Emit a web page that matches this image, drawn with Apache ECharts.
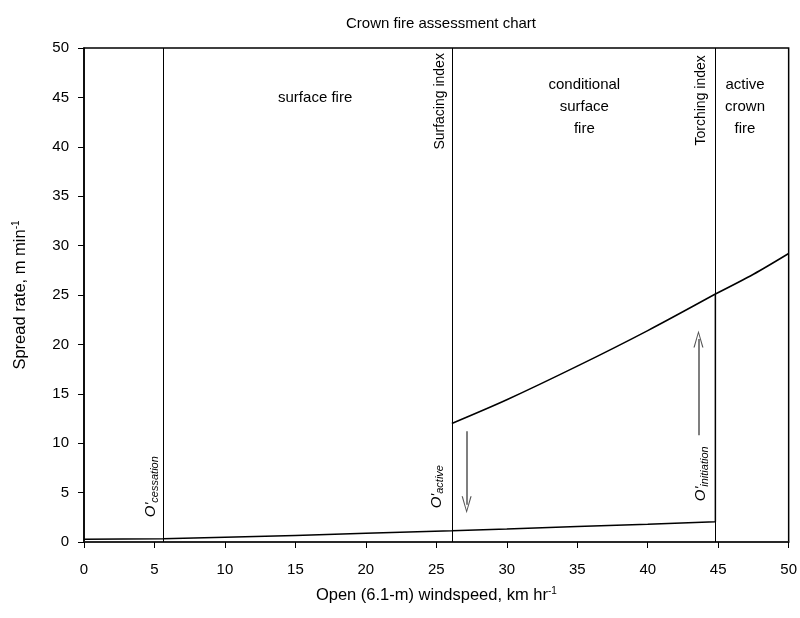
<!DOCTYPE html>
<html>
<head>
<meta charset="utf-8">
<script src="https://cdn.jsdelivr.net/npm/echarts@6/dist/echarts.min.js"></script>
<style>
  html, body { margin: 0; padding: 0; background: #fff; }
  #chart { width: 800px; height: 618px; }
</style>
</head>
<body>
<div id="chart"></div>
<script>
'use strict';

// surface fire spread rate (lower branch), ending with the jump at the torching index
const surfaceX = [0, 5.6, 10, 15, 20, 26.1, 30, 35, 40, 44.8, 44.8];
const surfaceY = [0.27, 0.33, 0.48, 0.67, 0.88, 1.14, 1.32, 1.56, 1.8, 2.05, 25.1];

// active crown fire beyond the torching index
const tailX = [44.8, 47.5, 50];
const tailY = [25.1, 27.1, 29.2];

// active crown fire branch inside the conditional zone
const upperX = [26.1, 30, 35, 40, 44.8];
const upperY = [12.0, 14.4, 17.8, 21.4, 25.1];

// thresholds: O'cessation, surfacing index (O'active), torching index (O'initiation)
const thresholds = [5.6, 26.1, 44.8];

// arrows: [x, yFrom, yTip]
const arrows = [
  [27.15, 11.2, 2.9],
  [43.6, 10.8, 21.4],
];

const xTicks = [0, 50, 5];
const yTicks = [0, 50, 5];

// annotation text
const zoneLabels = [
  { text: 'surface fire', at: [16.4, 45.0] },
  { text: 'conditional\nsurface\nfire', at: [35.5, 44.0] },
  { text: 'active\ncrown\nfire', at: [46.9, 44.0] },
];
const indexLabels = [
  { text: 'Surfacing index', at: [25.25, 44.6] },
  { text: 'Torching index', at: [43.8, 44.7] },
];
const subLabels = [
  { sub: 'cessation', at: [4.75, 5.6] },
  { sub: 'active', at: [25.0, 5.6] },
  { sub: 'initiation', at: [43.8, 6.9] },
];

const FONT = 'Liberation Sans, Arial, sans-serif';
const chevron = 'path://M5,0 L10,18 L8.8,18 L5,3.5 L1.2,18 L0,18 Z';
const HEAD = 17; // arrow head length, px
const Y_PX = 494 / 50; // px per y unit, only used to pull the head back onto the tip

const pairs = (xs, ys) => xs.map((x, i) => [x, ys[i]]);

const labelData = [
  ...zoneLabels.map((d) => ({
    value: d.at,
    label: { formatter: d.text, fontSize: 15, lineHeight: 22 },
  })),
  ...indexLabels.map((d) => ({
    value: d.at,
    label: { formatter: d.text, fontSize: 14, rotate: 90 },
  })),
  ...subLabels.map((d) => ({
    value: d.at,
    label: { formatter: `{o|O'}{s|${d.sub}}`, rotate: 90 },
  })),
];

const arrowData = arrows.map(([x, y0, y1]) => {
  const back = (HEAD / 2 / Y_PX) * Math.sign(y1 - y0);
  return [{ coord: [x, y0] }, { coord: [x, y1 - back] }];
});

const nameRich = {
  a: { fontFamily: FONT, fontSize: 16.5, color: '#000' },
  s: { fontFamily: FONT, fontSize: 10, color: '#000', verticalAlign: 'top', padding: [0, 0, 9, 0] },
};

const chart = echarts.init(document.getElementById('chart'));

chart.setOption({
  animation: false,
  textStyle: { fontFamily: FONT, color: '#000' },
  title: {
    text: 'Crown fire assessment chart',
    left: 436,
    top: 11,
    textAlign: 'center',
    textStyle: { fontFamily: FONT, fontSize: 15, fontWeight: 'normal', color: '#000' },
  },
  grid: {
    left: 84,
    right: 11,
    top: 48,
    bottom: 76,
    show: true,
    borderColor: '#000',
    borderWidth: 1.5,
  },
  xAxis: {
    type: 'value',
    min: xTicks[0],
    max: xTicks[1],
    interval: xTicks[2],
    name: '{a|Open (6.1-m) windspeed, km hr}{s|-1}',
    nameLocation: 'middle',
    nameGap: 44,
    nameTextStyle: { rich: nameRich },
    axisLine: { lineStyle: { color: '#222', width: 1.5 } },
    axisTick: { inside: false, length: 6, lineStyle: { color: '#000' } },
    axisLabel: { margin: 20, fontSize: 15, color: '#000', fontFamily: FONT },
    splitLine: { show: false },
  },
  yAxis: {
    type: 'value',
    min: yTicks[0],
    max: yTicks[1],
    interval: yTicks[2],
    name: '{a|Spread rate, m min}{s|-1}',
    nameLocation: 'middle',
    nameGap: 54,
    nameTextStyle: { rich: nameRich },
    axisLine: { lineStyle: { color: '#000', width: 1.5 } },
    axisTick: { inside: false, length: 6, lineStyle: { color: '#000' } },
    axisLabel: { margin: 15, fontSize: 15, color: '#000', fontFamily: FONT },
    splitLine: { show: false },
  },
  series: [
    {
      name: 'surface',
      type: 'line',
      data: pairs(surfaceX, surfaceY),
      showSymbol: false,
      silent: true,
      lineStyle: { color: '#000', width: 1.5 },
      markLine: {
        silent: true,
        symbol: 'none',
        label: { show: false },
        lineStyle: { color: '#000', width: 1, type: 'solid' },
        data: thresholds.map((x) => ({ xAxis: x })),
      },
    },
    {
      name: 'tail',
      type: 'line',
      data: pairs(tailX, tailY),
      smooth: 0.3,
      showSymbol: false,
      silent: true,
      lineStyle: { color: '#000', width: 1.5 },
    },
    {
      name: 'crown',
      type: 'line',
      data: pairs(upperX, upperY),
      smooth: 0.3,
      showSymbol: false,
      silent: true,
      lineStyle: { color: '#000', width: 1.5 },
      markLine: {
        silent: true,
        symbol: ['none', chevron],
        symbolSize: [10, HEAD],
        label: { show: false },
        lineStyle: { color: '#555', width: 1.5, type: 'solid', opacity: 1 },
        itemStyle: { color: '#111', opacity: 1 },
        data: arrowData,
      },
    },
    {
      name: 'labels',
      type: 'scatter',
      symbolSize: 0,
      silent: true,
      itemStyle: { opacity: 1, color: '#000' },
      data: labelData,
      label: {
        show: true,
        position: 'inside',
        align: 'center',
        verticalAlign: 'middle',
        color: '#000',
        opacity: 1,
        textBorderWidth: 0,
        fontFamily: FONT,
        rich: {
          o: { fontFamily: FONT, fontSize: 15, fontStyle: 'italic', color: '#000' },
          s: { fontFamily: FONT, fontSize: 11, fontStyle: 'italic', color: '#000', padding: [8, 0, 0, 0] },
        },
      },
    },
  ],
});
</script>
</body>
</html>
